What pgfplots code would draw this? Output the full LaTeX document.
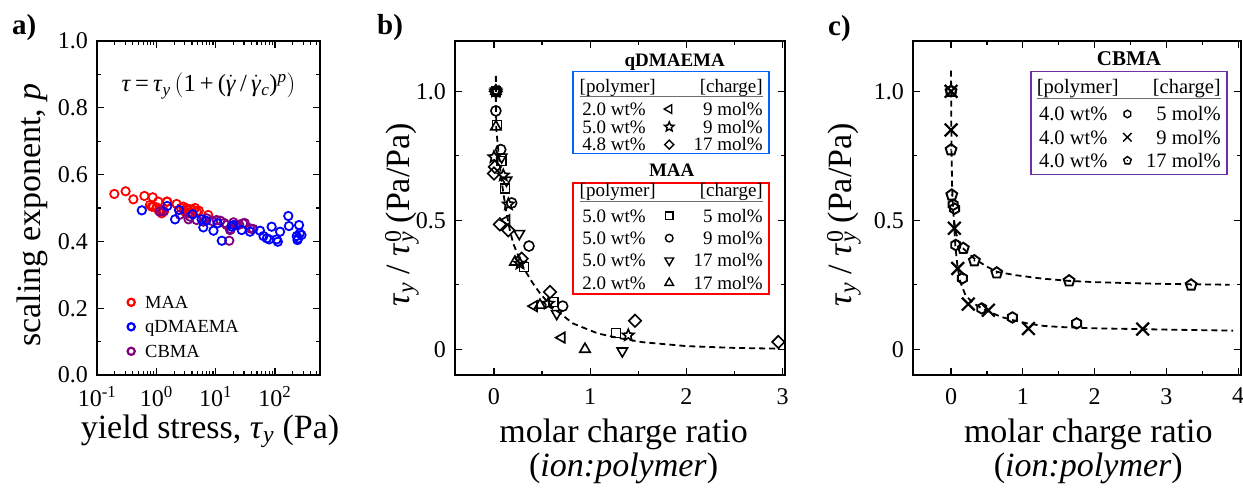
\documentclass[border=0pt]{standalone}
\usepackage{fontspec}
\setmainfont{Liberation Serif}
\usepackage{pgfplots}
\pgfplotsset{compat=1.18}
\usetikzlibrary{plotmarks}

\definecolor{mred}{RGB}{255,0,0}
\definecolor{mblue}{RGB}{0,0,255}
\definecolor{mpurple}{RGB}{128,0,128}
\definecolor{boxblue}{RGB}{0,102,255}
\definecolor{boxred}{RGB}{255,0,0}
\definecolor{boxpurple}{RGB}{112,48,160}
\definecolor{rulegray}{RGB}{110,110,110}

\newcommand{\fs}[1]{\fontsize{#1}{#1}\selectfont}
\newcommand{\lrow}[4]{\makebox[#1][l]{\hspace*{#2}#3\hfill#4}}
\newcommand{\lhead}[2]{\makebox[#1][l]{\rlap{\textcolor{rulegray}{\rule[-#2]{#1}{0.9pt}}}[polymer]\hfill[charge]}}
\newcommand{\gdot}{$\dot{\mbox{\textit{γ}}}$}

\pgfdeclareplotmark{hexa}{%
  \pgfpathmoveto{\pgfpointpolar{90}{\pgfplotmarksize}}%
  \pgfpathlineto{\pgfpointpolar{150}{\pgfplotmarksize}}%
  \pgfpathlineto{\pgfpointpolar{210}{\pgfplotmarksize}}%
  \pgfpathlineto{\pgfpointpolar{270}{\pgfplotmarksize}}%
  \pgfpathlineto{\pgfpointpolar{330}{\pgfplotmarksize}}%
  \pgfpathlineto{\pgfpointpolar{30}{\pgfplotmarksize}}%
  \pgfpathclose\pgfusepathqstroke}
\pgfdeclareplotmark{pentdot}{%
  \pgfpathmoveto{\pgfpointpolar{90}{\pgfplotmarksize}}%
  \pgfpathlineto{\pgfpointpolar{162}{\pgfplotmarksize}}%
  \pgfpathlineto{\pgfpointpolar{234}{\pgfplotmarksize}}%
  \pgfpathlineto{\pgfpointpolar{306}{\pgfplotmarksize}}%
  \pgfpathlineto{\pgfpointpolar{18}{\pgfplotmarksize}}%
  \pgfpathclose\pgfusepathqstroke
  \pgfpathcircle{\pgfpointorigin}{0.16\pgfplotmarksize}\pgfusepathqfill}
\pgfdeclareplotmark{ostar}{%
  \pgfpathmoveto{\pgfpointpolar{90}{\pgfplotmarksize}}%
  \pgfpathlineto{\pgfpointpolar{126}{0.45\pgfplotmarksize}}%
  \pgfpathlineto{\pgfpointpolar{162}{\pgfplotmarksize}}%
  \pgfpathlineto{\pgfpointpolar{198}{0.45\pgfplotmarksize}}%
  \pgfpathlineto{\pgfpointpolar{234}{\pgfplotmarksize}}%
  \pgfpathlineto{\pgfpointpolar{270}{0.45\pgfplotmarksize}}%
  \pgfpathlineto{\pgfpointpolar{306}{\pgfplotmarksize}}%
  \pgfpathlineto{\pgfpointpolar{342}{0.45\pgfplotmarksize}}%
  \pgfpathlineto{\pgfpointpolar{18}{\pgfplotmarksize}}%
  \pgfpathlineto{\pgfpointpolar{54}{0.45\pgfplotmarksize}}%
  \pgfpathclose\pgfusepathqstroke}

\pgfplotsset{
  panel/.style={scale only axis, height=334pt,
    axis line style={line width=1.3pt},
    every tick/.style={black,line width=1.2pt},
    major tick length=7pt, minor tick length=4pt,
    tick label style={font=\fs{24}},
    xticklabel style={anchor=north,inner sep=0pt,yshift=-13pt},
    yticklabel style={anchor=east,inner sep=0pt,xshift=-9pt},
    label style={font=\fs{34}}},
  legA/.style={only marks, legend image code/.code={\draw[##1,overlay] plot coordinates {(-14pt,6.2pt)};}},
  legB/.style={only marks, legend image code/.code={\draw[##1,overlay] plot coordinates {(89.5pt,6.3pt)};}},
  legC/.style={only marks, legend image code/.code={\draw[##1,overlay] plot coordinates {(90.7pt,6.8pt)};}},
  legH/.style={legend image code/.code={}},
  fitline/.style={black, line width=1.8pt, dash pattern=on 6pt off 4pt, forget plot, mark=none},
  bm/.style={only marks, black, forget plot, line width=1.6pt},
}

\begin{document}
\begin{tikzpicture}
\path[use as bounding box] (0,0) rectangle (1243pt,489pt);

\node[anchor=base west, font=\bfseries\fs{29}, inner sep=0pt] at (12pt,454pt) {a)};
\node[anchor=base west, font=\bfseries\fs{29}, inner sep=0pt] at (377pt,454pt) {b)};
\node[anchor=base west, font=\bfseries\fs{29}, inner sep=0pt] at (828pt,453pt) {c)};

% ---------------- panel a ----------------
\begin{axis}[panel, at={(97pt,114pt)}, anchor=south west, width=223pt,
  xmode=log, xmin=0.1, xmax=575, ymin=0, ymax=1,
  xtick={0.1,1,10,100},
  xticklabels={10\textsuperscript{-1},10\textsuperscript{0},10\textsuperscript{1},10\textsuperscript{2}},
  xticklabel style={yshift=2pt},
  minor xtick={0.2,0.3,0.4,0.5,0.6,0.7,0.8,0.9,2,3,4,5,6,7,8,9,20,30,40,50,60,70,80,90,200,300,400,500},
  ytick={0,0.2,0.4,0.6,0.8,1}, yticklabels={0.0,0.2,0.4,0.6,0.8,1.0},
  minor ytick={0.1,0.3,0.5,0.7,0.9},
  ylabel={scaling exponent, \textit{p}},
  ylabel style={at={(axis description cs:-0.2915,0.479)}, anchor=center},
  xlabel={yield stress, \textit{τ}\textsubscript{\textit{y}} (Pa)},
  xlabel style={at={(axis description cs:0.5067,-0.1916)}, anchor=base},
  legend style={at={(axis description cs:0.2152,0.2458)}, anchor=north west, draw=none, fill=none,
    inner sep=0pt, column sep=0pt, row sep=0pt, cells={anchor=base west},
    nodes={inner sep=0pt, text height=15.4pt, text depth=9.1pt, font=\fs{18.5}, anchor=base west}},
]
\addplot[only marks, mark=o, mark size=4.2pt, mred, mark options={line width=1.8pt}, forget plot] coordinates {
(0.196,0.542) (0.304,0.550) (0.41,0.526) (0.63,0.536) (0.87,0.532) (1.08,0.519) (1.53,0.519) (2.2,0.512)
(0.78,0.509) (0.89,0.504) (1.01,0.502) (1.23,0.494) (2.86,0.504) (3.25,0.499) (3.7,0.496) (4.2,0.494)
(4.8,0.489) (3.05,0.489) (3.47,0.484) (3.9,0.486) (7.5,0.479) (0.84,0.504) (1.23,0.484) (1.5,0.519)
(2.6,0.500) (4.5,0.500) (5.2,0.492) (3.3,0.494) (1.35,0.490) (1.1,0.492)
};
\addplot[only marks, mark=o, mark size=4.2pt, mpurple, mark options={line width=1.8pt}, forget plot] coordinates {
(1.15,0.489) (3.5,0.466) (4.8,0.464) (7.1,0.469) (10.4,0.464) (12,0.462) (15.4,0.449) (17.5,0.434)
(17,0.402) (22.7,0.449) (29,0.454) (38,0.439) (42,0.437) (3.7,0.474) (6.2,0.459) (20,0.457)
(31,0.455) (43,0.437) (18,0.437) (1.3,0.49) (2.5,0.48) (9,0.46) (14,0.455) (25,0.45)
};
\addplot[only marks, mark=o, mark size=4.2pt, mblue, mark options={line width=1.8pt}, forget plot] coordinates {
(0.57,0.493) (1.53,0.506) (2.07,0.466) (2.41,0.494) (4.1,0.481) (5.8,0.466) (6.2,0.442) (6.9,0.462)
(9.2,0.432) (10.8,0.454) (12.7,0.402) (18.7,0.444) (20,0.449) (27.5,0.434) (38,0.429) (56,0.432)
(64,0.416) (73,0.409) (88,0.444) (80,0.406) (107,0.406) (112,0.399) (122,0.429) (168,0.476)
(172,0.446) (233,0.416) (255,0.449) (245,0.409) (262,0.424) (280,0.419) (240,0.404)
};
\addlegendimage{legA, mred, mark=o, mark size=3.6pt, mark options={line width=2.2pt}}
\addlegendentry{MAA}
\addlegendimage{legA, mblue, mark=o, mark size=3.6pt, mark options={line width=2.2pt}}
\addlegendentry{qDMAEMA}
\addlegendimage{legA, mpurple, mark=o, mark size=3.6pt, mark options={line width=2.2pt}}
\addlegendentry{CBMA}
\node[anchor=base, inner sep=0pt, font=\fs{24.5}] at (axis description cs:0.5,0.848)
  {\textit{τ}\,=\,\textit{τ}\textsubscript{\textit{y}}\,$\bigl($1\,+\,(\gdot\,/\,\gdot\textsubscript{\textit{c}})\textsuperscript{\textit{p}}$\bigr)$};
\end{axis}

% ---------------- panel b ----------------
\begin{axis}[panel, at={(455pt,114pt)}, anchor=south west, width=330pt,
  xmin=-0.405, xmax=3.025, ymin=-0.1, ymax=1.195,
  xtick={0,1,2,3}, xticklabels={0,1,2,3}, minor xtick={0.5,1.5,2.5},
  ytick={0,0.5,1}, yticklabels={0,0.5,1.0}, minor ytick={0.25,0.75},
  ylabel={\textit{τ}\textsubscript{\textit{y}} / \textit{τ}\rlap{\textsuperscript{0}}\textsubscript{\textit{y}}\ (Pa/Pa)},
  ylabel style={at={(axis description cs:-0.1606,0.479)}, anchor=center},
  xlabel={molar charge ratio\\(\textit{ion:polymer})},
  xlabel style={align=center, at={(axis description cs:0.511,-0.130)}, anchor=north, inner sep=0pt, font=\fs{34}},
  legend style={at={(axis description cs:0.356,0.911)}, anchor=north west, draw=boxblue, line width=1.5pt, fill=white,
    inner xsep=6.5pt, inner ysep=0pt, column sep=0pt, row sep=0pt, cells={anchor=base west},
    nodes={inner sep=0pt, text height=15.3pt, text depth=2.5pt, font=\fs{19}, anchor=base west}},
]
\addplot[fitline] coordinates {
(0.02,1.06) (0.02,0.95) (0.025,0.85) (0.05,0.75) (0.08,0.65) (0.12,0.55) (0.16,0.47) (0.2,0.41)
(0.3,0.32) (0.4,0.258) (0.48,0.216) (0.6,0.165) (0.82,0.10) (1.08,0.061) (1.3,0.043) (1.55,0.027)
(2.0,0.012) (2.5,0.005) (2.97,0.002)
};
% qDMAEMA 2.0 wt% 9 mol% (left triangle)
\addplot[bm, mark=triangle, mark size=6pt, mark options={rotate=90}] coordinates {
(0.02,1.0) (0.13,0.50) (0.416,0.167) (0.704,0.045)
};
% qDMAEMA 5.0 wt% 9 mol% (star)
\addplot[bm, mark=ostar, mark size=6pt] coordinates {
(0.02,1.0) (0.0,0.745) (0.097,0.674) (0.15,0.562) (0.27,0.332) (0.565,0.177) (1.396,0.054)
};
% qDMAEMA 4.8 wt% 17 mol% (diamond)
\addplot[bm, mark=square, mark size=4.4pt, mark options={rotate=45}] coordinates {
(0.02,1.0) (0.01,0.707) (0.0,0.681) (0.062,0.484) (0.149,0.461) (0.288,0.351) (0.582,0.222) (1.466,0.11) (2.956,0.028)
};
% MAA 5.0 wt% 5 mol% (square)
\addplot[bm, mark=square, mark size=4.5pt] coordinates {
(0.02,1.0) (0.03,0.87) (0.08,0.73) (0.114,0.623) (0.312,0.319) (0.617,0.183) (1.268,0.063)
};
% MAA 5.0 wt% 9 mol% (circle)
\addplot[bm, mark=o, mark size=5pt] coordinates {
(0.02,1.0) (0.02,0.924) (0.07,0.774) (0.184,0.567) (0.364,0.40) (0.714,0.167)
};
% MAA 5.0 wt% 17 mol% (down triangle)
\addplot[bm, mark=triangle, mark size=6pt, mark options={rotate=180}] coordinates {
(0.02,1.0) (0.08,0.745) (0.13,0.655) (0.263,0.448) (0.652,0.138) (1.334,-0.007)
};
% MAA 2.0 wt% 17 mol% (up triangle)
\addplot[bm, mark=triangle, mark size=6pt] coordinates {
(0.02,1.0) (0.02,0.862) (0.218,0.338) (0.478,0.171) (0.946,0.0)
};
\addlegendimage{legH}
\addlegendentry[text height=21pt, text depth=7.6pt]{\lhead{183pt}{4.5pt}}
\addlegendimage{legB, black, mark=triangle, mark size=5pt, mark options={rotate=90, line width=1.4pt}}
\addlegendentry{\lrow{183pt}{2.7pt}{2.0 wt\%}{9 mol\%}}
\addlegendimage{legB, black, mark=ostar, mark size=5pt, mark options={line width=1.4pt}}
\addlegendentry{\lrow{183pt}{2.7pt}{5.0 wt\%}{9 mol\%}}
\addlegendimage{legB, black, mark=square, mark size=3.2pt, mark options={rotate=45, line width=1.4pt}}
\addlegendentry{\lrow{183pt}{2.7pt}{4.8 wt\%}{17 mol\%}}
\node[anchor=base, inner sep=0pt, font=\bfseries\fs{19}] at (axis description cs:0.6658,0.925) {qDMAEMA};
\node[anchor=base, inner sep=0pt, font=\bfseries\fs{19}] at (axis description cs:0.6567,0.5937) {MAA};
\end{axis}

\begin{axis}[at={(455pt,114pt)}, anchor=south west, scale only axis, width=330pt, height=334pt,
  hide axis, xmin=0, xmax=1, ymin=0, ymax=1,
  legend style={at={(axis description cs:0.356,0.577)}, anchor=north west, draw=boxred, line width=1.5pt, fill=white,
    inner xsep=6.5pt, inner ysep=0pt, column sep=0pt, row sep=0pt, cells={anchor=base west},
    nodes={inner sep=0pt, text height=17.7pt, text depth=4.7pt, font=\fs{19}, anchor=base west}},
]
\addlegendimage{legH}
\addlegendentry[text height=13.7pt, text depth=7.6pt]{\lhead{183pt}{5.5pt}}
\addlegendimage{legB, black, mark=square, mark size=3.6pt, mark options={line width=1.4pt}}
\addlegendentry{\lrow{183pt}{2.7pt}{5.0 wt\%}{5 mol\%}}
\addlegendimage{legB, black, mark=o, mark size=3.8pt, mark options={line width=1.4pt}}
\addlegendentry{\lrow{183pt}{2.7pt}{5.0 wt\%}{9 mol\%}}
\addlegendimage{legB, black, mark=triangle, mark size=5pt, mark options={rotate=180, line width=1.4pt}}
\addlegendentry{\lrow{183pt}{2.7pt}{5.0 wt\%}{17 mol\%}}
\addlegendimage{legB, black, mark=triangle, mark size=5pt, mark options={line width=1.4pt}}
\addlegendentry{\lrow{183pt}{2.7pt}{2.0 wt\%}{17 mol\%}}
\end{axis}

% ---------------- panel c ----------------
\begin{axis}[panel, at={(913pt,114pt)}, anchor=south west, width=328pt,
  xmin=-0.53, xmax=4.04, ymin=-0.1, ymax=1.195,
  xtick={0,1,2,3,4}, xticklabels={0,1,2,3,4}, minor xtick={0.5,1.5,2.5,3.5},
  ytick={0,0.5,1}, yticklabels={0,0.5,1.0}, minor ytick={0.25,0.75},
  ylabel={\textit{τ}\textsubscript{\textit{y}} / \textit{τ}\rlap{\textsuperscript{0}}\textsubscript{\textit{y}}\ (Pa/Pa)},
  ylabel style={at={(axis description cs:-0.2104,0.479)}, anchor=center},
  xlabel={molar charge ratio\\(\textit{ion:polymer})},
  xlabel style={align=center, at={(axis description cs:0.5345,-0.130)}, anchor=north, inner sep=0pt, font=\fs{34}},
  legend style={at={(axis description cs:0.3567,0.911)}, anchor=north west, draw=boxpurple, line width=1.5pt, fill=white,
    inner xsep=6pt, inner ysep=0pt, column sep=0pt, row sep=0pt, cells={anchor=base west},
    nodes={inner sep=0pt, text height=16pt, text depth=7.3pt, font=\fs{20.5}, anchor=base west}},
]
\addplot[fitline] coordinates {
(0.0,1.08) (0.003,0.9) (0.008,0.75) (0.015,0.63) (0.03,0.53) (0.06,0.46) (0.1,0.42) (0.17,0.39)
(0.33,0.35) (0.5,0.32) (0.64,0.30) (0.9,0.287) (1.26,0.274) (1.64,0.265) (2.0,0.26) (2.5,0.256)
(3.0,0.253) (3.88,0.25)
};
\addplot[fitline] coordinates {
(0.04,0.5) (0.06,0.4) (0.09,0.32) (0.13,0.26) (0.2,0.21) (0.3,0.18) (0.45,0.155) (0.7,0.125)
(0.9,0.11) (1.1,0.098) (1.3,0.09) (1.6,0.085) (2.0,0.081) (3.0,0.076) (3.93,0.072)
};
% 5 mol% hexagon
\addplot[bm, mark=hexa, mark size=5.2pt, line width=1.9pt] coordinates {
(0.0,1.0) (0.03,0.56) (0.05,0.545) (0.065,0.404) (0.158,0.275) (0.428,0.158) (0.855,0.123) (1.75,0.1)
};
% 9 mol% cross
\addplot[bm, mark=x, mark size=9pt, line width=2.2pt] coordinates {
(0.0,1.0) (0.0,0.85) (0.046,0.469) (0.093,0.313) (0.24,0.175) (0.52,0.151) (1.078,0.08) (2.67,0.078)
};
% 17 mol% pentagon
\addplot[bm, mark=pentdot, mark size=5.7pt, line width=1.9pt] coordinates {
(0.0,1.0) (0.0,0.773) (0.01,0.598) (0.171,0.391) (0.325,0.343) (0.637,0.296) (1.645,0.265) (3.345,0.249)
};
\addlegendimage{legH}
\addlegendentry[text height=22pt, text depth=11.3pt]{\lhead{184pt}{5.3pt}}
\addlegendimage{legC, black, mark=hexa, mark size=3.8pt, mark options={line width=1.4pt}}
\addlegendentry{\lrow{184pt}{2.3pt}{4.0 wt\%}{5 mol\%}}
\addlegendimage{legC, black, mark=x, mark size=6pt, mark options={line width=1.4pt}}
\addlegendentry{\lrow{184pt}{2.3pt}{4.0 wt\%}{9 mol\%}}
\addlegendimage{legC, black, mark=pentdot, mark size=4pt, mark options={line width=1.4pt}}
\addlegendentry{\lrow{184pt}{2.3pt}{4.0 wt\%}{17 mol\%}}
\node[anchor=base, inner sep=0pt, font=\bfseries\fs{21}] at (axis description cs:0.6585,0.926) {CBMA};
\end{axis}
\end{tikzpicture}
\end{document}
